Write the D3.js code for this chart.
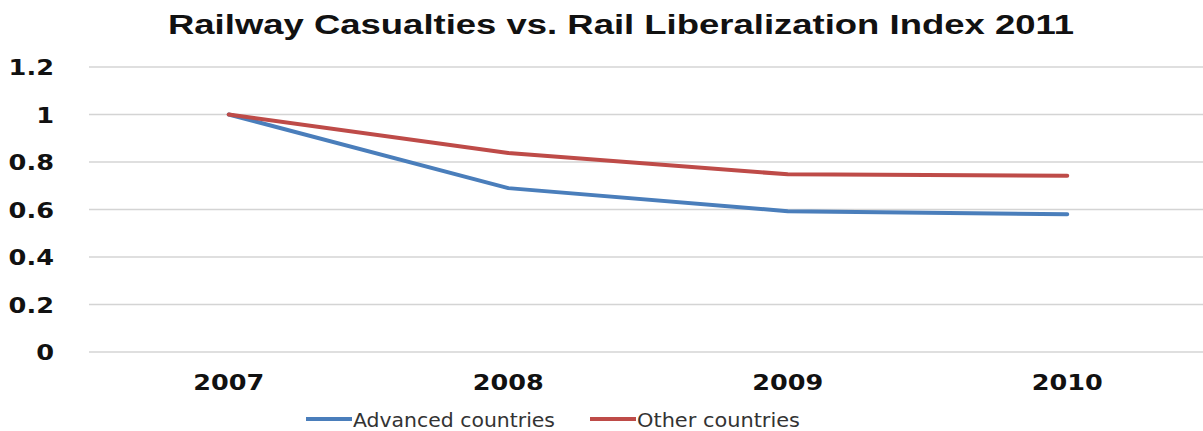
<!DOCTYPE html>
<html>
<head>
<meta charset="utf-8">
<script src="https://cdn.jsdelivr.net/npm/d3@7/dist/d3.min.js"></script>
<style>
  body { margin: 0; background: #fff; }
  svg { display: block; }
</style>
</head>
<body>
<svg id="chart" width="1203" height="431"></svg>
<script>
var years = ["2007", "2008", "2009", "2010"];
var advanced = [1.0, 0.69, 0.593, 0.58];
var other = [1.0, 0.838, 0.748, 0.742];
var yTicks = [0, 0.2, 0.4, 0.6, 0.8, 1, 1.2];
var seriesNames = ["Advanced countries", "Other countries"];
var seriesColors = ["#4a7ebb", "#be4b48"];

var svg = d3.select("#chart");

var x = d3.scaleBand().domain(years).range([89, 1207]);
var y = d3.scaleLinear().domain([0, 1.2]).range([352, 67]);

// stretch text sideways, the source picture is wider than tall
function widen(sel, factor) {
  sel.each(function() {
    var w = this.getComputedTextLength();
    d3.select(this).attr("textLength", w * factor).attr("lengthAdjust", "spacingAndGlyphs");
  });
}

// title
svg.append("text")
    .attr("x", 621).attr("y", 34)
    .attr("text-anchor", "middle")
    .attr("textLength", 906).attr("lengthAdjust", "spacingAndGlyphs")
    .style("font-family", "'Liberation Sans Narrow', 'Liberation Sans', Arial, sans-serif")
    .style("font-weight", "bold").style("font-size", "27px")
    .style("fill", "#111")
    .text("Railway Casualties vs. Rail Liberalization Index 2011");

// grid lines
svg.append("g").selectAll("line")
    .data(yTicks).enter().append("line")
    .attr("x1", 89).attr("x2", 1203)
    .attr("y1", function(d) { return y(d); })
    .attr("y2", function(d) { return y(d); })
    .attr("stroke", "#d4d4d4").attr("stroke-width", 1.5);

// y labels
svg.append("g").selectAll("text")
    .data(yTicks).enter().append("text")
    .attr("x", 54)
    .attr("y", function(d) { return y(d) + 8; })
    .attr("text-anchor", "end")
    .style("font-family", "'DejaVu Sans', sans-serif")
    .style("font-weight", "bold").style("font-size", "21px")
    .style("fill", "#111")
    .text(function(d) { return d; })
    .call(widen, 1.22);

// x labels
svg.append("g").selectAll("text")
    .data(years).enter().append("text")
    .attr("x", function(d) { return x(d) + x.bandwidth() / 2; })
    .attr("y", 390)
    .attr("text-anchor", "middle")
    .attr("textLength", 71).attr("lengthAdjust", "spacingAndGlyphs")
    .style("font-family", "'DejaVu Sans', sans-serif")
    .style("font-weight", "bold").style("font-size", "22px")
    .style("fill", "#111")
    .text(function(d) { return d; });

// lines
var line = d3.line()
    .x(function(d, i) { return x(years[i]) + x.bandwidth() / 2; })
    .y(function(d) { return y(d); });

[advanced, other].forEach(function(s, i) {
  svg.append("path")
      .datum(s)
      .attr("d", line)
      .attr("fill", "none")
      .attr("stroke", seriesColors[i])
      .attr("stroke-width", 4)
      .attr("stroke-linecap", "round")
      .attr("stroke-linejoin", "round");
});

// legend
var legendX = [306, 590];
var legendW = [202, 163];
seriesNames.forEach(function(name, i) {
  var g = svg.append("g").attr("transform", "translate(" + legendX[i] + ",419)");
  g.append("line")
      .attr("x1", 0).attr("x2", 46)
      .attr("stroke", seriesColors[i]).attr("stroke-width", 4);
  g.append("text")
      .attr("x", 47).attr("y", 8)
      .attr("textLength", legendW[i]).attr("lengthAdjust", "spacingAndGlyphs")
      .style("font-family", "'DejaVu Sans', sans-serif")
      .style("font-size", "20px")
      .style("fill", "#333")
      .text(name);
});
</script>
</body>
</html>
